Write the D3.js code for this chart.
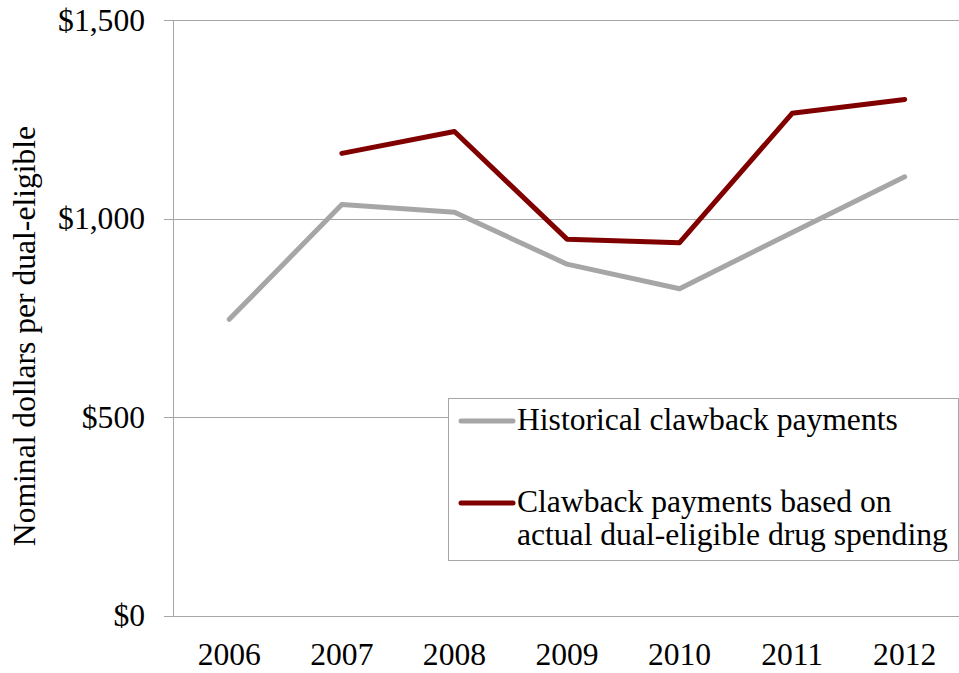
<!DOCTYPE html>
<html>
<head>
<meta charset="utf-8">
<script src="https://cdn.jsdelivr.net/npm/d3@7"></script>
<style>
  html, body { margin: 0; padding: 0; background: #fff; }
  svg { display: block; }
</style>
</head>
<body>
<svg id="chart" width="959" height="673" font-family="'Liberation Serif', 'Times New Roman', serif"></svg>
<script>
const years = ["2006", "2007", "2008", "2009", "2010", "2011", "2012"];
const historical = [746, 1035, 1016, 885, 823, 965, 1105];
const actualBased = [null, 1164, 1219, 948, 939, 1265, 1300];
const yTicks = [0, 500, 1000, 1500];
const seriesNames = ["Historical clawback payments", "Clawback payments based on|actual dual-eligible drug spending"];
const seriesColors = ["#a6a6a6", "#800000"];
const yTitle = "Nominal dollars per dual-eligible";

const FONT = "'Liberation Serif', 'Times New Roman', serif";
const FS = "31.6px";

const svg = d3.select("#chart");
const plotL = 173, plotR = 961, plotT = 20, plotB = 615.5;

const x = d3.scalePoint().domain(years).range([plotL, plotR]).padding(0.5);
const y = d3.scaleLinear().domain([0, 1500]).range([plotB, plotT]);

// gridlines
svg.append("g").selectAll("line").data(yTicks).join("line")
  .attr("x1", plotL - 9).attr("x2", 959)
  .attr("y1", d => Math.round(y(d)) + 0.5).attr("y2", d => Math.round(y(d)) + 0.5)
  .attr("stroke", "#a6a6a6").attr("stroke-width", 1);

// y axis line
svg.append("line")
  .attr("x1", plotL + 0.5).attr("x2", plotL + 0.5)
  .attr("y1", plotT).attr("y2", plotB + 0.5)
  .attr("stroke", "#a6a6a6").attr("stroke-width", 1);

// y tick labels
const fmt = d3.format(",");
svg.append("g").selectAll("text").data(yTicks).join("text")
  .attr("x", 145).attr("y", d => y(d))
  .attr("dy", "0.34em")
  .attr("text-anchor", "end")
  .attr("font-family", FONT)
  .style("font-size", FS)
  .attr("fill", "#000")
  .text(d => "$" + fmt(d));

// x labels
svg.append("g").selectAll("text").data(years).join("text")
  .attr("x", d => x(d)).attr("y", 665)
  .attr("text-anchor", "middle")
  .attr("font-family", FONT)
  .style("font-size", FS)
  .attr("fill", "#000")
  .text(d => d);

// y title
svg.append("text")
  .attr("transform", `translate(35,336) rotate(-90)`)
  .attr("text-anchor", "middle")
  .attr("font-family", FONT)
  .style("font-size", FS)
  .attr("fill", "#000")
  .text(yTitle);

// lines
const line = d3.line()
  .defined(d => d.v != null)
  .x(d => x(d.year)).y(d => y(d.v));

[historical, actualBased].forEach((vals, i) => {
  svg.append("path")
    .datum(years.map((yr, j) => ({ year: yr, v: vals[j] })))
    .attr("d", line)
    .attr("fill", "none")
    .attr("stroke", seriesColors[i])
    .attr("stroke-width", 5)
    .attr("stroke-linecap", "round")
    .attr("stroke-linejoin", "round");
});

// legend
const lg = svg.append("g");
lg.append("rect")
  .attr("x", 448.5).attr("y", 398.5)
  .attr("width", 510).attr("height", 162)
  .attr("fill", "#fff").attr("stroke", "#a6a6a6").attr("stroke-width", 1);

const legendRows = [{ ly: 421, ty: 430 }, { ly: 503, ty: 512 }];
seriesNames.forEach((name, i) => {
  const r = legendRows[i];
  lg.append("line")
    .attr("x1", 461).attr("x2", 513)
    .attr("y1", r.ly).attr("y2", r.ly)
    .attr("stroke", seriesColors[i]).attr("stroke-width", 5)
    .attr("stroke-linecap", "round");
  const t = lg.append("text")
    .attr("x", 517).attr("y", r.ty)
    .attr("font-family", FONT)
    .style("font-size", FS)
    .attr("fill", "#000");
  name.split("|").forEach((part, k) => {
    t.append("tspan").attr("x", 517).attr("dy", k === 0 ? 0 : 33.3).text(part);
  });
});
</script>
</body>
</html>
